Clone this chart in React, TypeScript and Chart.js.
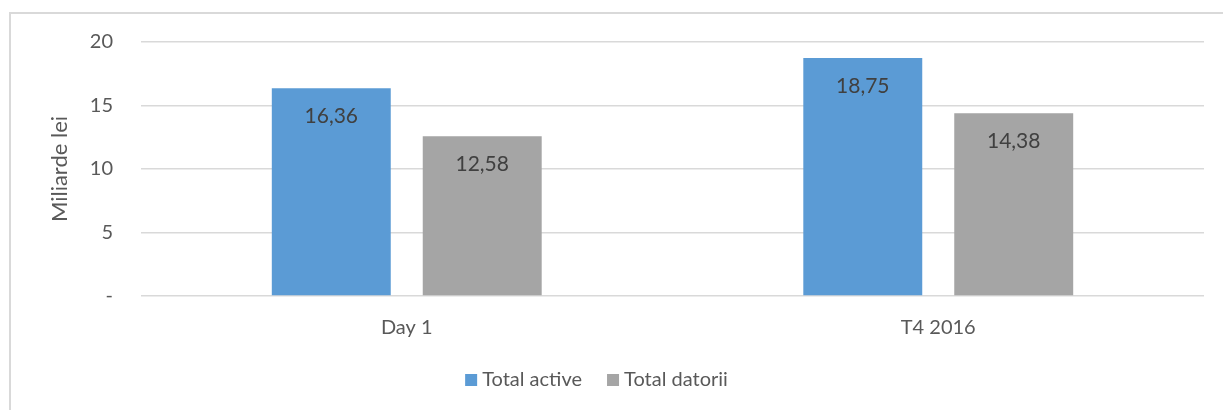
import React, { useEffect, useRef } from "react";
import { Chart, registerables } from "chart.js";

Chart.register(...registerables);

// Data
const categories = ["Day 1", "T4 2016"];
const seriesNames = ["Total active", "Total datorii"];
const totalActive = [16.36, 18.75];
const totalDatorii = [12.58, 14.38];
const seriesColors = ["#5b9bd5", "#a5a5a5"];
const yTicks = [0, 5, 10, 15, 20];
const yTitle = "Miliarde lei";

const FONT = "Lato, 'Open Sans', sans-serif";
const TEXT = "#595959";

const fmt = (v: number) => v.toFixed(2).replace(".", ",");

// Value labels inside the top of each bar
const barLabels = {
  id: "barLabels",
  afterDatasetsDraw(chart: any) {
    const ctx = chart.ctx;
    ctx.save();
    ctx.font = `21px ${FONT}`;
    ctx.fillStyle = "#404040";
    ctx.textAlign = "center";
    ctx.textBaseline = "middle";
    chart.data.datasets.forEach((ds: any, di: number) => {
      const meta = chart.getDatasetMeta(di);
      meta.data.forEach((bar: any, i: number) => {
        ctx.fillText(fmt(ds.data[i]), bar.x, bar.y + 28);
      });
    });
    ctx.restore();
  },
};

// Legend along the bottom: small squares followed by series names
const bottomLegend = {
  id: "bottomLegend",
  afterDraw(chart: any) {
    const ctx = chart.ctx;
    const box = 12;
    const gapText = 5;
    const gapItem = 25;
    const cy = 380;
    const centerX = 596.5;
    ctx.save();
    ctx.font = `20px ${FONT}`;
    const items = chart.data.datasets.map((ds: any) => ({
      label: ds.label,
      color: ds.backgroundColor,
      w: ctx.measureText(ds.label).width,
    }));
    const total =
      items.reduce((s: number, it: any) => s + box + gapText + it.w, 0) +
      gapItem * (items.length - 1);
    let x = centerX - total / 2;
    ctx.textBaseline = "middle";
    ctx.textAlign = "left";
    items.forEach((it: any) => {
      ctx.fillStyle = it.color;
      ctx.fillRect(x, cy - box / 2, box, box);
      x += box + gapText;
      ctx.fillStyle = TEXT;
      ctx.fillText(it.label, x, cy);
      x += it.w + gapItem;
    });
    ctx.restore();
  },
};

export default function App() {
  const canvasRef = useRef<HTMLCanvasElement | null>(null);

  useEffect(() => {
    if (!canvasRef.current) return;
    const chart = new Chart(canvasRef.current, {
      type: "bar",
      data: {
        labels: categories,
        datasets: [
          {
            label: seriesNames[0],
            data: totalActive,
            backgroundColor: seriesColors[0],
            categoryPercentage: 0.568,
            barPercentage: 0.788,
          },
          {
            label: seriesNames[1],
            data: totalDatorii,
            backgroundColor: seriesColors[1],
            categoryPercentage: 0.568,
            barPercentage: 0.788,
          },
        ],
      },
      options: {
        animation: false,
        responsive: false,
        maintainAspectRatio: false,
        layout: { padding: { top: 42, right: 19, bottom: 0, left: 0 } },
        plugins: {
          legend: { display: false },
          tooltip: { enabled: false },
        },
        scales: {
          x: {
            grid: { display: false, drawTicks: false },
            border: { display: false },
            ticks: {
              color: TEXT,
              font: { family: FONT, size: 20 },
              padding: 20,
            },
            afterFit(scale: any) {
              scale.height = 114;
            },
          },
          y: {
            min: 0,
            max: 20,
            afterBuildTicks(scale: any) {
              scale.ticks = yTicks.map((v) => ({ value: v }));
            },
            grid: { color: "#d9d9d9", lineWidth: 1.5, drawTicks: false },
            border: { display: false },
            ticks: {
              color: TEXT,
              font: { family: FONT, size: 20 },
              padding: 28,
              callback: (v: any) => (Number(v) === 0 ? "-" : String(v)),
            },
            title: {
              display: true,
              text: yTitle,
              color: TEXT,
              font: { family: FONT, size: 22 },
              padding: { top: 47, bottom: 0 },
            },
            afterFit(scale: any) {
              scale.width = 141;
            },
          },
        },
      },
      plugins: [barLabels, bottomLegend],
    });
    return () => chart.destroy();
  }, []);

  return (
    <div
      style={{
        position: "fixed",
        left: 0,
        top: 0,
        width: 1223,
        height: 410,
        overflow: "hidden",
        background: "#ffffff",
      }}
    >
      <div
        style={{
          position: "absolute",
          left: 9,
          top: 12,
          width: 1400,
          height: 600,
          border: "2px solid #d9d9d9",
          boxSizing: "border-box",
        }}
      />
      <canvas
        ref={canvasRef}
        width={1223}
        height={410}
        style={{ position: "absolute", left: 0, top: 0, width: 1223, height: 410 }}
      />
    </div>
  );
}
